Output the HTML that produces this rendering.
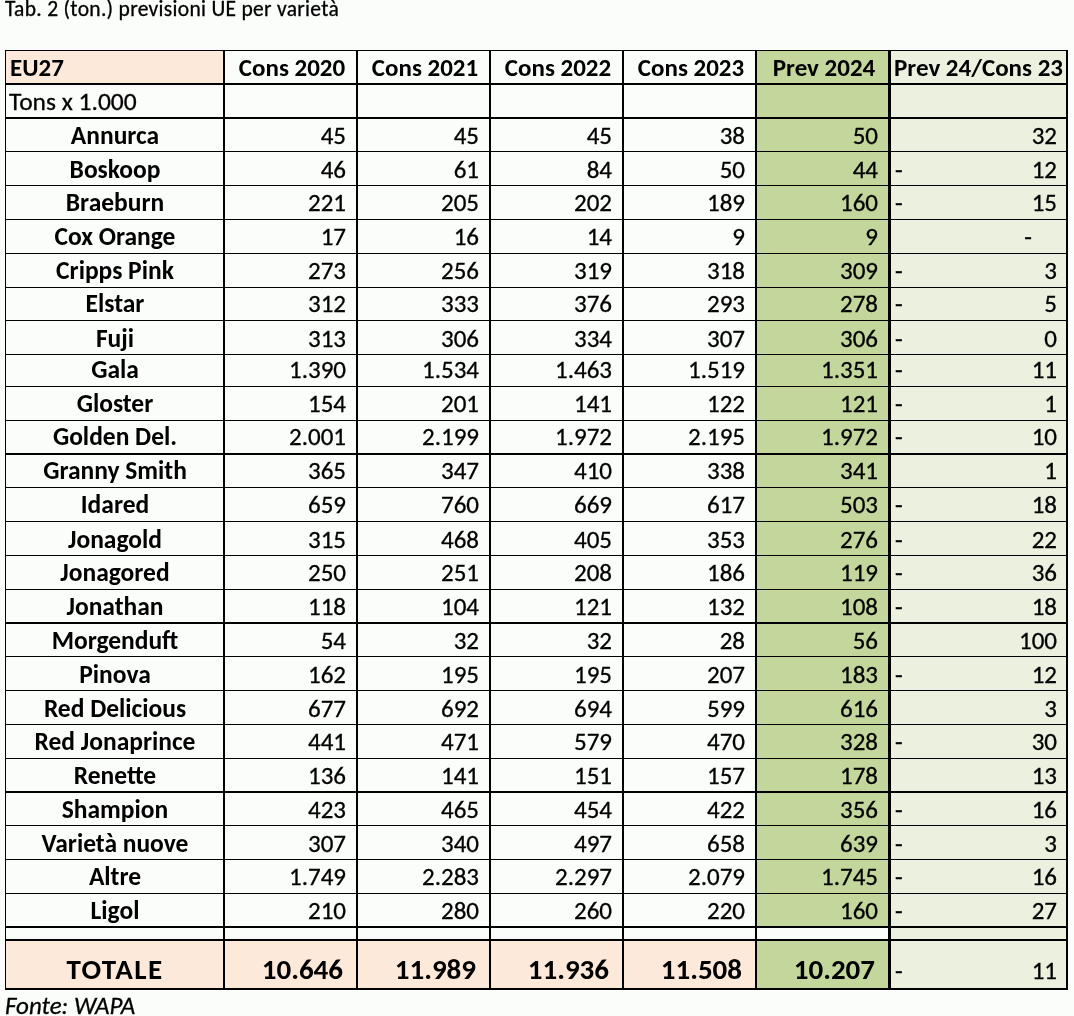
<!DOCTYPE html><html><head><meta charset='utf-8'><title>Tab. 2</title><style>
html,body{margin:0;padding:0}body{width:1074px;height:1016px;background:#fbfdfa;position:relative;overflow:hidden;font-family:Carlito, 'Liberation Sans', sans-serif;color:#000}
.f,.l{position:absolute}.l{background:#000}
.t{position:absolute;white-space:nowrap;line-height:40px;font-size:25px}
.t{-webkit-text-stroke:0.3px #000}.b{-webkit-text-stroke:0}.b{font-weight:bold}.r{text-align:right}.c{text-align:center}
.nc .t{font-family:'Liberation Sans',Arial,sans-serif;-webkit-text-stroke:0;transform:translateY(-1px) scale(.9,.89);transform-origin:0 29px}
.nc .b{transform:translateY(-1px) scale(.86,.89)}.nc .r{transform-origin:100% 29px}.nc .c{transform-origin:50% 29px}
</style></head><body>
<div class='t ' style='left:5px;top:-11px;width:595px;font-size:21.5px;letter-spacing:0.3px'>Tab. 2 (ton.) previsioni UE per varietà</div>
<div class='f' style='left:6px;top:51px;width:217px;height:32px;background:#fde9d9'></div>
<div class='f' style='left:757px;top:51px;width:131px;height:875px;background:#c3d69b'></div>
<div class='f' style='left:891px;top:51px;width:175px;height:937px;background:#ebf1de'></div>
<div class='f' style='left:6px;top:941px;width:749px;height:47px;background:#fde9d9'></div>
<div class='f' style='left:757px;top:941px;width:131px;height:47px;background:#c3d69b'></div>
<div class='l' style='left:5px;top:50px;width:1px;height:940px'></div>
<div class='l' style='left:223px;top:50px;width:2px;height:940px'></div>
<div class='l' style='left:356px;top:50px;width:2px;height:940px'></div>
<div class='l' style='left:489px;top:50px;width:2px;height:940px'></div>
<div class='l' style='left:622px;top:50px;width:2px;height:940px'></div>
<div class='l' style='left:755px;top:50px;width:2px;height:940px'></div>
<div class='l' style='left:888px;top:50px;width:3px;height:940px'></div>
<div class='l' style='left:1066px;top:50px;width:2px;height:940px'></div>
<div class='l' style='left:5px;top:50px;width:1063px;height:1px'></div>
<div class='l' style='left:5px;top:83px;width:1063px;height:2px'></div>
<div class='l' style='left:5px;top:117px;width:1063px;height:2px'></div>
<div class='l' style='left:5px;top:151px;width:1063px;height:1px'></div>
<div class='l' style='left:5px;top:185px;width:1063px;height:1px'></div>
<div class='l' style='left:5px;top:219px;width:1063px;height:1px'></div>
<div class='l' style='left:5px;top:253px;width:1063px;height:1px'></div>
<div class='l' style='left:5px;top:287px;width:1063px;height:1px'></div>
<div class='l' style='left:5px;top:320px;width:1063px;height:1px'></div>
<div class='l' style='left:5px;top:354px;width:1063px;height:1px'></div>
<div class='l' style='left:5px;top:386px;width:1063px;height:1px'></div>
<div class='l' style='left:5px;top:420px;width:1063px;height:1px'></div>
<div class='l' style='left:5px;top:453px;width:1063px;height:2px'></div>
<div class='l' style='left:5px;top:487px;width:1063px;height:1px'></div>
<div class='l' style='left:5px;top:521px;width:1063px;height:1px'></div>
<div class='l' style='left:5px;top:555px;width:1063px;height:1px'></div>
<div class='l' style='left:5px;top:589px;width:1063px;height:1px'></div>
<div class='l' style='left:5px;top:622px;width:1063px;height:2px'></div>
<div class='l' style='left:5px;top:656px;width:1063px;height:1px'></div>
<div class='l' style='left:5px;top:690px;width:1063px;height:1px'></div>
<div class='l' style='left:5px;top:724px;width:1063px;height:1px'></div>
<div class='l' style='left:5px;top:758px;width:1063px;height:1px'></div>
<div class='l' style='left:5px;top:791px;width:1063px;height:2px'></div>
<div class='l' style='left:5px;top:825px;width:1063px;height:1px'></div>
<div class='l' style='left:5px;top:859px;width:1063px;height:1px'></div>
<div class='l' style='left:5px;top:893px;width:1063px;height:1px'></div>
<div class='l' style='left:5px;top:926px;width:1063px;height:2px'></div>
<div class='l' style='left:5px;top:939px;width:1063px;height:2px'></div>
<div class='l' style='left:5px;top:988px;width:1063px;height:2px'></div>
<div class='t b' style='left:10px;top:48px;width:212px;'>EU27</div>
<div class='t b c' style='left:228px;top:48px;width:128px;'>Cons 2020</div>
<div class='t b c' style='left:361px;top:48px;width:128px;'>Cons 2021</div>
<div class='t b c' style='left:494px;top:48px;width:128px;'>Cons 2022</div>
<div class='t b c' style='left:627px;top:48px;width:128px;'>Cons 2023</div>
<div class='t b c' style='left:760px;top:48px;width:128px;'>Prev 2024</div>
<div class='t b c' style='left:861px;top:48px;width:235px;'>Prev 24/Cons 23</div>
<div class='t ' style='left:9px;top:82px;width:213px;font-size:25.5px;'>Tons x 1.000</div>
<div class='t b c' style='left:8px;top:116px;width:214px;font-size:25.5px;'>Annurca</div>
<div class='t r' style='left:225px;top:116px;width:121px;'>45</div>
<div class='t r' style='left:358px;top:116px;width:121px;'>45</div>
<div class='t r' style='left:491px;top:116px;width:121px;'>45</div>
<div class='t r' style='left:624px;top:116px;width:121px;'>38</div>
<div class='t r' style='left:757px;top:116px;width:121px;'>50</div>
<div class='t r' style='left:960px;top:116px;width:97px;'>32</div>
<div class='t b c' style='left:8px;top:150px;width:214px;font-size:25.5px;'>Boskoop</div>
<div class='t r' style='left:225px;top:150px;width:121px;'>46</div>
<div class='t r' style='left:358px;top:150px;width:121px;'>61</div>
<div class='t r' style='left:491px;top:150px;width:121px;'>84</div>
<div class='t r' style='left:624px;top:150px;width:121px;'>50</div>
<div class='t r' style='left:757px;top:150px;width:121px;'>44</div>
<div class='t ' style='left:895px;top:150px;width:65px;'>-</div>
<div class='t r' style='left:960px;top:150px;width:97px;'>12</div>
<div class='t b c' style='left:8px;top:183px;width:214px;font-size:25.5px;'>Braeburn</div>
<div class='t r' style='left:225px;top:183px;width:121px;'>221</div>
<div class='t r' style='left:358px;top:183px;width:121px;'>205</div>
<div class='t r' style='left:491px;top:183px;width:121px;'>202</div>
<div class='t r' style='left:624px;top:183px;width:121px;'>189</div>
<div class='t r' style='left:757px;top:183px;width:121px;'>160</div>
<div class='t ' style='left:895px;top:183px;width:65px;'>-</div>
<div class='t r' style='left:960px;top:183px;width:97px;'>15</div>
<div class='t b c' style='left:8px;top:217px;width:214px;font-size:25.5px;'>Cox Orange</div>
<div class='t r' style='left:225px;top:217px;width:121px;'>17</div>
<div class='t r' style='left:358px;top:217px;width:121px;'>16</div>
<div class='t r' style='left:491px;top:217px;width:121px;'>14</div>
<div class='t r' style='left:624px;top:217px;width:121px;'>9</div>
<div class='t r' style='left:757px;top:217px;width:121px;'>9</div>
<div class='t r' style='left:960px;top:217px;width:72px;'>-</div>
<div class='t b c' style='left:8px;top:251px;width:214px;font-size:25.5px;'>Cripps Pink</div>
<div class='t r' style='left:225px;top:251px;width:121px;'>273</div>
<div class='t r' style='left:358px;top:251px;width:121px;'>256</div>
<div class='t r' style='left:491px;top:251px;width:121px;'>319</div>
<div class='t r' style='left:624px;top:251px;width:121px;'>318</div>
<div class='t r' style='left:757px;top:251px;width:121px;'>309</div>
<div class='t ' style='left:895px;top:251px;width:65px;'>-</div>
<div class='t r' style='left:960px;top:251px;width:97px;'>3</div>
<div class='t b c' style='left:8px;top:284px;width:214px;font-size:25.5px;'>Elstar</div>
<div class='t r' style='left:225px;top:284px;width:121px;'>312</div>
<div class='t r' style='left:358px;top:284px;width:121px;'>333</div>
<div class='t r' style='left:491px;top:284px;width:121px;'>376</div>
<div class='t r' style='left:624px;top:284px;width:121px;'>293</div>
<div class='t r' style='left:757px;top:284px;width:121px;'>278</div>
<div class='t ' style='left:895px;top:284px;width:65px;'>-</div>
<div class='t r' style='left:960px;top:284px;width:97px;'>5</div>
<div class='t b c' style='left:8px;top:319px;width:214px;font-size:25.5px;'>Fuji</div>
<div class='t r' style='left:225px;top:319px;width:121px;'>313</div>
<div class='t r' style='left:358px;top:319px;width:121px;'>306</div>
<div class='t r' style='left:491px;top:319px;width:121px;'>334</div>
<div class='t r' style='left:624px;top:319px;width:121px;'>307</div>
<div class='t r' style='left:757px;top:319px;width:121px;'>306</div>
<div class='t ' style='left:895px;top:319px;width:65px;'>-</div>
<div class='t r' style='left:960px;top:319px;width:97px;'>0</div>
<div class='t b c' style='left:8px;top:350px;width:214px;font-size:25.5px;'>Gala</div>
<div class='t r' style='left:225px;top:350px;width:121px;'>1.390</div>
<div class='t r' style='left:358px;top:350px;width:121px;'>1.534</div>
<div class='t r' style='left:491px;top:350px;width:121px;'>1.463</div>
<div class='t r' style='left:624px;top:350px;width:121px;'>1.519</div>
<div class='t r' style='left:757px;top:350px;width:121px;'>1.351</div>
<div class='t ' style='left:895px;top:350px;width:65px;'>-</div>
<div class='t r' style='left:960px;top:350px;width:97px;'>11</div>
<div class='t b c' style='left:8px;top:384px;width:214px;font-size:25.5px;'>Gloster</div>
<div class='t r' style='left:225px;top:384px;width:121px;'>154</div>
<div class='t r' style='left:358px;top:384px;width:121px;'>201</div>
<div class='t r' style='left:491px;top:384px;width:121px;'>141</div>
<div class='t r' style='left:624px;top:384px;width:121px;'>122</div>
<div class='t r' style='left:757px;top:384px;width:121px;'>121</div>
<div class='t ' style='left:895px;top:384px;width:65px;'>-</div>
<div class='t r' style='left:960px;top:384px;width:97px;'>1</div>
<div class='t b c' style='left:8px;top:417px;width:214px;font-size:25.5px;'>Golden Del.</div>
<div class='t r' style='left:225px;top:417px;width:121px;'>2.001</div>
<div class='t r' style='left:358px;top:417px;width:121px;'>2.199</div>
<div class='t r' style='left:491px;top:417px;width:121px;'>1.972</div>
<div class='t r' style='left:624px;top:417px;width:121px;'>2.195</div>
<div class='t r' style='left:757px;top:417px;width:121px;'>1.972</div>
<div class='t ' style='left:895px;top:417px;width:65px;'>-</div>
<div class='t r' style='left:960px;top:417px;width:97px;'>10</div>
<div class='t b c' style='left:8px;top:451px;width:214px;font-size:25.5px;'>Granny Smith</div>
<div class='t r' style='left:225px;top:451px;width:121px;'>365</div>
<div class='t r' style='left:358px;top:451px;width:121px;'>347</div>
<div class='t r' style='left:491px;top:451px;width:121px;'>410</div>
<div class='t r' style='left:624px;top:451px;width:121px;'>338</div>
<div class='t r' style='left:757px;top:451px;width:121px;'>341</div>
<div class='t r' style='left:960px;top:451px;width:97px;'>1</div>
<div class='t b c' style='left:8px;top:485px;width:214px;font-size:25.5px;'>Idared</div>
<div class='t r' style='left:225px;top:485px;width:121px;'>659</div>
<div class='t r' style='left:358px;top:485px;width:121px;'>760</div>
<div class='t r' style='left:491px;top:485px;width:121px;'>669</div>
<div class='t r' style='left:624px;top:485px;width:121px;'>617</div>
<div class='t r' style='left:757px;top:485px;width:121px;'>503</div>
<div class='t ' style='left:895px;top:485px;width:65px;'>-</div>
<div class='t r' style='left:960px;top:485px;width:97px;'>18</div>
<div class='t b c' style='left:8px;top:520px;width:214px;font-size:25.5px;'>Jonagold</div>
<div class='t r' style='left:225px;top:520px;width:121px;'>315</div>
<div class='t r' style='left:358px;top:520px;width:121px;'>468</div>
<div class='t r' style='left:491px;top:520px;width:121px;'>405</div>
<div class='t r' style='left:624px;top:520px;width:121px;'>353</div>
<div class='t r' style='left:757px;top:520px;width:121px;'>276</div>
<div class='t ' style='left:895px;top:520px;width:65px;'>-</div>
<div class='t r' style='left:960px;top:520px;width:97px;'>22</div>
<div class='t b c' style='left:8px;top:553px;width:214px;font-size:25.5px;'>Jonagored</div>
<div class='t r' style='left:225px;top:553px;width:121px;'>250</div>
<div class='t r' style='left:358px;top:553px;width:121px;'>251</div>
<div class='t r' style='left:491px;top:553px;width:121px;'>208</div>
<div class='t r' style='left:624px;top:553px;width:121px;'>186</div>
<div class='t r' style='left:757px;top:553px;width:121px;'>119</div>
<div class='t ' style='left:895px;top:553px;width:65px;'>-</div>
<div class='t r' style='left:960px;top:553px;width:97px;'>36</div>
<div class='t b c' style='left:8px;top:587px;width:214px;font-size:25.5px;'>Jonathan</div>
<div class='t r' style='left:225px;top:587px;width:121px;'>118</div>
<div class='t r' style='left:358px;top:587px;width:121px;'>104</div>
<div class='t r' style='left:491px;top:587px;width:121px;'>121</div>
<div class='t r' style='left:624px;top:587px;width:121px;'>132</div>
<div class='t r' style='left:757px;top:587px;width:121px;'>108</div>
<div class='t ' style='left:895px;top:587px;width:65px;'>-</div>
<div class='t r' style='left:960px;top:587px;width:97px;'>18</div>
<div class='t b c' style='left:8px;top:621px;width:214px;font-size:25.5px;'>Morgenduft</div>
<div class='t r' style='left:225px;top:621px;width:121px;'>54</div>
<div class='t r' style='left:358px;top:621px;width:121px;'>32</div>
<div class='t r' style='left:491px;top:621px;width:121px;'>32</div>
<div class='t r' style='left:624px;top:621px;width:121px;'>28</div>
<div class='t r' style='left:757px;top:621px;width:121px;'>56</div>
<div class='t r' style='left:960px;top:621px;width:97px;'>100</div>
<div class='t b c' style='left:8px;top:655px;width:214px;font-size:25.5px;'>Pinova</div>
<div class='t r' style='left:225px;top:655px;width:121px;'>162</div>
<div class='t r' style='left:358px;top:655px;width:121px;'>195</div>
<div class='t r' style='left:491px;top:655px;width:121px;'>195</div>
<div class='t r' style='left:624px;top:655px;width:121px;'>207</div>
<div class='t r' style='left:757px;top:655px;width:121px;'>183</div>
<div class='t ' style='left:895px;top:655px;width:65px;'>-</div>
<div class='t r' style='left:960px;top:655px;width:97px;'>12</div>
<div class='t b c' style='left:8px;top:689px;width:214px;font-size:25.5px;'>Red Delicious</div>
<div class='t r' style='left:225px;top:689px;width:121px;'>677</div>
<div class='t r' style='left:358px;top:689px;width:121px;'>692</div>
<div class='t r' style='left:491px;top:689px;width:121px;'>694</div>
<div class='t r' style='left:624px;top:689px;width:121px;'>599</div>
<div class='t r' style='left:757px;top:689px;width:121px;'>616</div>
<div class='t r' style='left:960px;top:689px;width:97px;'>3</div>
<div class='t b c' style='left:8px;top:722px;width:214px;font-size:25.5px;'>Red Jonaprince</div>
<div class='t r' style='left:225px;top:722px;width:121px;'>441</div>
<div class='t r' style='left:358px;top:722px;width:121px;'>471</div>
<div class='t r' style='left:491px;top:722px;width:121px;'>579</div>
<div class='t r' style='left:624px;top:722px;width:121px;'>470</div>
<div class='t r' style='left:757px;top:722px;width:121px;'>328</div>
<div class='t ' style='left:895px;top:722px;width:65px;'>-</div>
<div class='t r' style='left:960px;top:722px;width:97px;'>30</div>
<div class='t b c' style='left:8px;top:756px;width:214px;font-size:25.5px;'>Renette</div>
<div class='t r' style='left:225px;top:756px;width:121px;'>136</div>
<div class='t r' style='left:358px;top:756px;width:121px;'>141</div>
<div class='t r' style='left:491px;top:756px;width:121px;'>151</div>
<div class='t r' style='left:624px;top:756px;width:121px;'>157</div>
<div class='t r' style='left:757px;top:756px;width:121px;'>178</div>
<div class='t r' style='left:960px;top:756px;width:97px;'>13</div>
<div class='t b c' style='left:8px;top:790px;width:214px;font-size:25.5px;'>Shampion</div>
<div class='t r' style='left:225px;top:790px;width:121px;'>423</div>
<div class='t r' style='left:358px;top:790px;width:121px;'>465</div>
<div class='t r' style='left:491px;top:790px;width:121px;'>454</div>
<div class='t r' style='left:624px;top:790px;width:121px;'>422</div>
<div class='t r' style='left:757px;top:790px;width:121px;'>356</div>
<div class='t ' style='left:895px;top:790px;width:65px;'>-</div>
<div class='t r' style='left:960px;top:790px;width:97px;'>16</div>
<div class='t b c' style='left:8px;top:824px;width:214px;font-size:25.5px;'>Varietà nuove</div>
<div class='t r' style='left:225px;top:824px;width:121px;'>307</div>
<div class='t r' style='left:358px;top:824px;width:121px;'>340</div>
<div class='t r' style='left:491px;top:824px;width:121px;'>497</div>
<div class='t r' style='left:624px;top:824px;width:121px;'>658</div>
<div class='t r' style='left:757px;top:824px;width:121px;'>639</div>
<div class='t ' style='left:895px;top:824px;width:65px;'>-</div>
<div class='t r' style='left:960px;top:824px;width:97px;'>3</div>
<div class='t b c' style='left:8px;top:857px;width:214px;font-size:25.5px;'>Altre</div>
<div class='t r' style='left:225px;top:857px;width:121px;'>1.749</div>
<div class='t r' style='left:358px;top:857px;width:121px;'>2.283</div>
<div class='t r' style='left:491px;top:857px;width:121px;'>2.297</div>
<div class='t r' style='left:624px;top:857px;width:121px;'>2.079</div>
<div class='t r' style='left:757px;top:857px;width:121px;'>1.745</div>
<div class='t ' style='left:895px;top:857px;width:65px;'>-</div>
<div class='t r' style='left:960px;top:857px;width:97px;'>16</div>
<div class='t b c' style='left:8px;top:891px;width:214px;font-size:25.5px;'>Ligol</div>
<div class='t r' style='left:225px;top:891px;width:121px;'>210</div>
<div class='t r' style='left:358px;top:891px;width:121px;'>280</div>
<div class='t r' style='left:491px;top:891px;width:121px;'>260</div>
<div class='t r' style='left:624px;top:891px;width:121px;'>220</div>
<div class='t r' style='left:757px;top:891px;width:121px;'>160</div>
<div class='t ' style='left:895px;top:891px;width:65px;'>-</div>
<div class='t r' style='left:960px;top:891px;width:97px;'>27</div>
<div class='t b c' style='left:8px;top:949px;width:214px;font-size:29px;letter-spacing:1.4px'>TOTALE</div>
<div class='t b r' style='left:225px;top:949px;width:118px;font-size:29px;'>10.646</div>
<div class='t b r' style='left:358px;top:949px;width:118px;font-size:29px;'>11.989</div>
<div class='t b r' style='left:491px;top:949px;width:118px;font-size:29px;'>11.936</div>
<div class='t b r' style='left:624px;top:949px;width:118px;font-size:29px;'>11.508</div>
<div class='t b r' style='left:757px;top:949px;width:118px;font-size:29px;'>10.207</div>
<div class='t ' style='left:895px;top:951px;width:65px;'>-</div>
<div class='t r' style='left:960px;top:951px;width:97px;'>11</div>
<div class='t ' style='left:5px;top:986px;width:295px;font-style:italic'>Fonte: WAPA</div>
<script>(function(){var s=document.createElement('span');s.style.cssText='position:absolute;left:0;top:0;visibility:hidden;white-space:nowrap;font-size:40px;font-family:monospace';s.textContent='Cons 2020 Prev mmWWiil';document.body.appendChild(s);var w0=s.offsetWidth;s.style.fontFamily='Carlito,monospace';var w1=s.offsetWidth;document.body.removeChild(s);if(w0===w1){document.body.className+=' nc';}})();</script>
</body></html>
